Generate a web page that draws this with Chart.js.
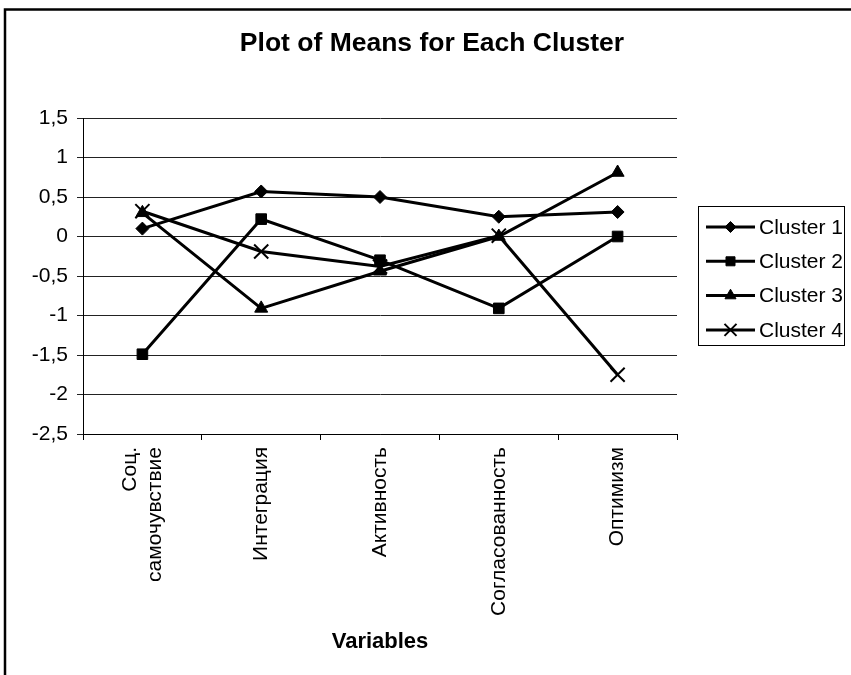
<!DOCTYPE html>
<html>
<head>
<meta charset="utf-8">
<script src="https://cdn.jsdelivr.net/npm/chart.js@4.4.1/dist/chart.umd.min.js"></script>
<style>
  html, body { margin: 0; padding: 0; background: #fff; }
  #wrap { width: 851px; height: 675px; position: relative; }
</style>
</head>
<body>
<div id="wrap"><canvas id="c" width="851" height="675"></canvas></div>
<script>
const categories = [['Соц.', 'самочувствие'], 'Интеграция', 'Активность', 'Согласованность', 'Оптимизм'];
const seriesNames = ['Cluster 1', 'Cluster 2', 'Cluster 3', 'Cluster 4'];
const cluster1 = [0.10, 0.57, 0.50, 0.25, 0.31];
const cluster2 = [-1.49, 0.22, -0.30, -0.91, 0.00];
const cluster3 = [0.30, -0.91, -0.44, 0.00, 0.81];
const cluster4 = [0.32, -0.19, -0.38, 0.01, -1.75];
const yTicks = [1.5, 1, 0.5, 0, -0.5, -1, -1.5, -2, -2.5];
const chartTitle = 'Plot of Means for Each Cluster';
const xTitle = 'Variables';

const FONT = "'Liberation Sans', Arial, sans-serif";
const styles = [
  { pointStyle: 'rectRot', radius: 6.5, bw: 1 },
  { pointStyle: 'rect', radius: 7.5, bw: 1 },
  { pointStyle: 'triangle', radius: 7.5, bw: 1 },
  { pointStyle: 'crossRot', radius: 10, bw: 2 }
];
const seriesValues = [cluster1, cluster2, cluster3, cluster4];

const datasets = seriesValues.map((vals, i) => ({
  label: seriesNames[i],
  data: vals,
  borderColor: '#000',
  backgroundColor: '#000',
  borderWidth: 3,
  pointStyle: styles[i].pointStyle,
  pointRadius: styles[i].radius,
  pointHoverRadius: styles[i].radius,
  pointBorderColor: '#000',
  pointBackgroundColor: '#000',
  pointBorderWidth: styles[i].bw,
  tension: 0,
  fill: false
}));

const frame = {
  id: 'frame',
  beforeDraw(chart) {
    const ctx = chart.ctx;
    ctx.save();
    ctx.fillStyle = '#fff';
    ctx.fillRect(0, 0, chart.width, chart.height);
    ctx.strokeStyle = '#000';
    ctx.lineWidth = 2.5;
    ctx.beginPath();
    ctx.moveTo(5, 675);
    ctx.lineTo(5, 9.5);
    ctx.lineTo(851, 9.5);
    ctx.stroke();
    // chart title, centred as in the reference
    ctx.font = 'bold 26.5px ' + FONT;
    ctx.fillStyle = '#000';
    ctx.textAlign = 'center';
    ctx.textBaseline = 'middle';
    ctx.fillText(chartTitle, 432, 44);
    ctx.restore();
    // centre the two-line first category label on its tick
    const xs = chart.scales.x;
    const items = xs.getLabelItems(chart.chartArea);
    items.forEach((it, idx) => {
      const lbl = categories[idx];
      if (Array.isArray(lbl) && lbl.length > 1 && !it._shifted) {
        const lh = 21 * 1.2;
        it.options.translation[0] -= lh * (lbl.length - 1) / 2;
        it._shifted = true;
      }
    });
  }
};

const customLegend = {
  id: 'customLegend',
  afterDraw(chart) {
    const ctx = chart.ctx;
    const x0 = 698.5, y0 = 206.5, w = 146, h = 139;
    ctx.save();
    ctx.strokeStyle = '#000';
    ctx.lineWidth = 1;
    ctx.strokeRect(x0, y0, w, h);
    ctx.font = '21px ' + FONT;
    ctx.textBaseline = 'middle';
    ctx.textAlign = 'left';
    ctx.fillStyle = '#000';
    seriesNames.forEach((name, i) => {
      const y = 227 + i * 34.3;
      ctx.beginPath();
      ctx.strokeStyle = '#000';
      ctx.lineWidth = 3;
      ctx.moveTo(706, y);
      ctx.lineTo(755, y);
      ctx.stroke();
      ctx.lineWidth = styles[i].bw;
      Chart.helpers.drawPoint(ctx, {
        pointStyle: styles[i].pointStyle,
        radius: styles[i].radius * 0.85,
        borderWidth: styles[i].bw,
        rotation: 0
      }, 730.5, y);
      ctx.fillText(name, 759, y + 1);
    });
    ctx.restore();
  }
};

new Chart(document.getElementById('c'), {
  type: 'line',
  data: { labels: categories, datasets },
  plugins: [frame, customLegend],
  options: {
    responsive: false,
    animation: false,
    devicePixelRatio: 1,
    layout: { padding: { left: 0, right: 174, top: 118, bottom: 0 } },
    plugins: {
      legend: { display: false },
      tooltip: { enabled: false },
      title: { display: false }
    },
    scales: {
      x: {
        type: 'category',
        offset: true,
        afterFit(scale) { scale.height = 241; },
        grid: {
          offset: true,
          drawOnChartArea: false,
          drawTicks: true,
          tickLength: 6,
          color: '#000',
          lineWidth: 1
        },
        border: { display: true, color: '#000', width: 1 },
        ticks: {
          color: '#000',
          font: { family: FONT, size: 21, lineHeight: 1.2 },
          minRotation: 90,
          maxRotation: 90,
          autoSkip: false,
          padding: 7
        },
        title: {
          display: true,
          text: xTitle,
          color: '#000',
          font: { family: FONT, size: 22, weight: 'bold', lineHeight: 1.2 },
          padding: { top: 0, bottom: 20 }
        }
      },
      y: {
        min: -2.5,
        max: 1.5,
        afterFit(scale) { scale.width = 83; },
        afterBuildTicks(scale) { scale.ticks = yTicks.map(v => ({ value: v })); },
        grid: {
          color: '#222',
          lineWidth: 1,
          drawTicks: true,
          tickLength: 6
        },
        border: { display: true, color: '#000', width: 1 },
        ticks: {
          color: '#000',
          font: { family: FONT, size: 21 },
          padding: 9,
          callback: (v) => String(v).replace('.', ',')
        }
      }
    }
  }
});
</script>
</body>
</html>
